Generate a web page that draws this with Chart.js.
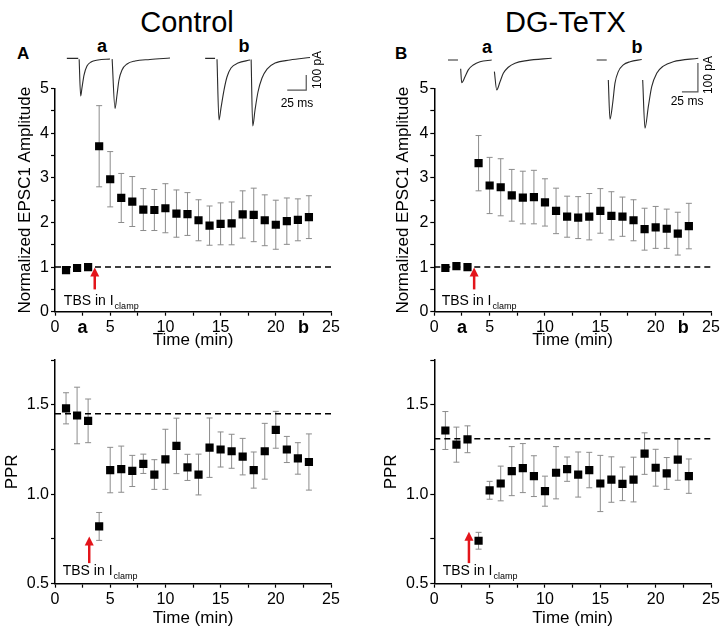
<!DOCTYPE html>
<html>
<head>
<meta charset="utf-8">
<script src="https://cdn.jsdelivr.net/npm/chart.js@4.4.1/dist/chart.umd.min.js"></script>
<style>
  body { margin: 0; background: #fff; }
  #fig { position: relative; width: 724px; height: 637px; overflow: hidden;
         font-family: "Liberation Sans", Arial, Helvetica, sans-serif; color: #000; }
  #fig canvas { position: absolute; }
  .txt { position: absolute; white-space: nowrap; line-height: 1; }
  .head { font-family: "Liberation Sans Narrow", "Liberation Sans", Arial, sans-serif; font-size: 29px; }
  .panel { font-weight: bold; font-size: 17px; }
  .mark { font-weight: bold; font-size: 18px; width: 20px; text-align: center; }
</style>
</head>
<body>
<div id="fig">
  <div class="txt head" style="left:132px;top:8px;width:110px;text-align:center">Control</div>
  <div class="txt head" style="left:505px;top:8px;width:120px;text-align:center">DG-TeTX</div>
  <div class="txt panel" style="left:17px;top:45px">A</div>
  <div class="txt panel" style="left:395px;top:45px">B</div>
  <div class="txt mark" style="left:92px;top:37px">a</div>
  <div class="txt mark" style="left:234px;top:37px">b</div>
  <div class="txt mark" style="left:477px;top:38px">a</div>
  <div class="txt mark" style="left:627px;top:38px">b</div>

  <canvas id="insetCtrl" width="285" height="95" style="left:60px;top:40px"></canvas>
  <canvas id="insetTetx" width="284" height="95" style="left:440px;top:40px"></canvas>
  <canvas id="ampCtrl" width="362" height="300" style="left:0;top:60px"></canvas>
  <canvas id="ampTetx" width="362" height="300" style="left:362px;top:60px"></canvas>
  <canvas id="pprCtrl" width="362" height="292" style="left:0;top:345px"></canvas>
  <canvas id="pprTetx" width="362" height="292" style="left:362px;top:345px"></canvas>
</div>
<script>
// time points (min)
const times = [1, 2, 3, 4, 5, 6, 7, 8, 9, 10, 11, 12, 13, 14, 15, 16, 17, 18, 19, 20, 21, 22, 23];

// normalized EPSC1 amplitude, mean and SEM
const ctrlAmp = [0.93, 0.98, 1.00, 3.71, 2.97, 2.55, 2.47, 2.29, 2.28, 2.32, 2.20, 2.19, 2.05, 1.93, 1.97, 1.98, 2.18, 2.17, 2.05, 1.95, 2.03, 2.06, 2.12];
const ctrlAmpErr = [0.04, 0.04, 0.04, 0.91, 0.62, 0.55, 0.56, 0.47, 0.46, 0.55, 0.53, 0.48, 0.46, 0.44, 0.47, 0.48, 0.53, 0.60, 0.57, 0.55, 0.52, 0.47, 0.48];
const tetxAmp = [0.98, 1.02, 1.00, 3.33, 2.83, 2.79, 2.61, 2.56, 2.57, 2.45, 2.26, 2.13, 2.11, 2.13, 2.26, 2.15, 2.13, 2.05, 1.85, 1.89, 1.86, 1.75, 1.92];
const tetxAmpErr = [0.04, 0.04, 0.04, 0.62, 0.63, 0.64, 0.58, 0.59, 0.60, 0.53, 0.51, 0.46, 0.47, 0.52, 0.50, 0.54, 0.44, 0.46, 0.47, 0.47, 0.44, 0.48, 0.51];

// paired pulse ratio, mean and SEM
const ctrlPpr = [1.48, 1.44, 1.41, 0.82, 1.135, 1.14, 1.13, 1.17, 1.11, 1.195, 1.27, 1.15, 1.11, 1.26, 1.25, 1.24, 1.21, 1.135, 1.24, 1.36, 1.25, 1.20, 1.18];
const ctrlPprErr = [0.087, 0.158, 0.122, 0.078, 0.127, 0.129, 0.087, 0.054, 0.083, 0.168, 0.155, 0.073, 0.114, 0.166, 0.098, 0.095, 0.102, 0.101, 0.156, 0.103, 0.073, 0.088, 0.157];
const tetxPpr = [1.356, 1.277, 1.307, 0.74, 1.022, 1.06, 1.129, 1.146, 1.101, 1.017, 1.12, 1.14, 1.11, 1.135, 1.06, 1.082, 1.058, 1.082, 1.227, 1.148, 1.116, 1.193, 1.101];
const tetxPprErr = [0.106, 0.098, 0.075, 0.047, 0.05, 0.097, 0.137, 0.137, 0.114, 0.084, 0.146, 0.068, 0.126, 0.099, 0.157, 0.127, 0.094, 0.125, 0.116, 0.103, 0.089, 0.115, 0.096];

// dashed reference levels
const ampBaseline = 1;
const ctrlPprBaseline = 1.45;
const tetxPprBaseline = 1.31;

// x tick labels for the sample times of traces a and b
const markTimes = [2.5, 22.5];
const markLabels = ["a", "b"];

// example EPSC traces, [ms, pA]; null pA = gap
const ctrlTraceA = [[9, 0], [24, 0], [24.6, null],
  [25.2, -5], [27.2, -251], [28.9, -197], [31.6, -111], [35.5, -51], [40.8, -24], [50, -11], [65.8, -4], [67, null],
  [68.6, -5], [72.4, -333], [75, -244], [77.6, -144], [81.6, -77], [88.2, -37], [98.7, -17], [118.4, -7], [144.8, 3]];
const ctrlTraceB = [[191, 0], [204, 0], [205, null],
  [206.6, -5], [209.2, -411], [211.8, -331], [215.8, -211], [219.7, -124], [225, -64], [234.2, -31], [250, -11], [250.8, null],
  [251.5, -8], [253.6, -451], [256.6, -344], [260.5, -224], [265.8, -131], [272.4, -71], [283, -31], [302.6, -11], [329, 6]];
const ctrlScaleBar = [[299, -211], [324, -211], [324, -111]];

const tetxTraceA = [[12.5, 0], [28.1, 0], [30, null],
  [32.3, -30], [33.9, -78], [39.1, -58], [44.2, -34], [52, -17], [62.5, -6], [80.8, 0], [82.5, null],
  [85, -40], [88.6, -103], [93.8, -75], [98.9, -46], [106.7, -25], [117.2, -11], [135.5, -2], [174.5, 6]];
const tetxTraceB = [[244.8, 0], [260.5, 0], [261.7, null],
  [263, -69], [265.6, -204], [269.8, -149], [273.4, -80], [278.6, -40], [286.4, -17], [296.9, -6], [315.2, 2], [316, null],
  [316.7, -69], [320.3, -235], [325.5, -161], [330.8, -92], [338.6, -46], [348.9, -21], [364.5, -6], [403.6, 6]];
const tetxScaleBar = [[378, -110], [403, -110], [403, -10]];

Chart.defaults.font.family = "'Liberation Sans', Arial, Helvetica, sans-serif";
Chart.defaults.color = "#000";

const toXY = (arr) => arr.map((p) => ({ x: p[0], y: p[1] }));

function errorBars(errors) {
  return {
    id: "errorBars",
    beforeDatasetsDraw(chart) {
      const { ctx, scales: { x, y } } = chart;
      const pts = chart.data.datasets[1].data;
      ctx.save();
      ctx.strokeStyle = "#8c8c8c";
      ctx.lineWidth = 1;
      pts.forEach((d, i) => {
        const px = x.getPixelForValue(d.x);
        const top = y.getPixelForValue(d.y + errors[i]);
        const bot = y.getPixelForValue(d.y - errors[i]);
        ctx.beginPath();
        ctx.moveTo(px, top); ctx.lineTo(px, bot);
        ctx.moveTo(px - 3, top); ctx.lineTo(px + 3, top);
        ctx.moveTo(px - 3, bot); ctx.lineTo(px + 3, bot);
        ctx.stroke();
      });
      ctx.restore();
    },
  };
}

function tbsNote(arrow, note) {
  return {
    id: "tbsNote",
    afterDatasetsDraw(chart) {
      const { ctx, scales: { x, y } } = chart;
      const ax = x.getPixelForValue(arrow.x);
      const y0 = y.getPixelForValue(arrow.from);
      const y1 = y.getPixelForValue(arrow.to);
      ctx.save();
      ctx.strokeStyle = ctx.fillStyle = "#e3151b";
      ctx.lineWidth = 2.5;
      ctx.beginPath();
      ctx.moveTo(ax, y0); ctx.lineTo(ax, y1 + 7);
      ctx.stroke();
      ctx.beginPath();
      ctx.moveTo(ax, y1); ctx.lineTo(ax - 4.5, y1 + 9); ctx.lineTo(ax + 4.5, y1 + 9);
      ctx.closePath();
      ctx.fill();
      const tx = x.getPixelForValue(note.x);
      const ty = y.getPixelForValue(note.y);
      ctx.fillStyle = "#000";
      ctx.textBaseline = "alphabetic";
      ctx.font = "14px 'Liberation Sans', Arial, sans-serif";
      ctx.fillText("TBS in I", tx, ty);
      const w = ctx.measureText("TBS in I").width;
      ctx.font = "9px 'Liberation Sans', Arial, sans-serif";
      ctx.fillText("clamp", tx + w + 1, ty + 4);
      ctx.restore();
    },
  };
}

function mainChart(id, cfg) {
  const isMark = (v) => cfg.marks && markTimes.some((m) => Math.abs(m - v) < 1e-6);
  return new Chart(document.getElementById(id), {
    type: "scatter",
    data: {
      datasets: [
        {
          data: [{ x: 0, y: cfg.baseline }, { x: 25, y: cfg.baseline }],
          showLine: true,
          borderColor: "#000",
          borderWidth: 1.5,
          borderDash: [6, 4],
          pointRadius: 0,
        },
        {
          data: times.map((t, i) => ({ x: t, y: cfg.values[i] })),
          pointStyle: "rect",
          pointRadius: 5.8,
          backgroundColor: "#000",
          borderWidth: 0,
        },
      ],
    },
    options: {
      responsive: false,
      animation: false,
      events: [],
      layout: { padding: cfg.padding },
      plugins: { legend: { display: false }, tooltip: { enabled: false } },
      scales: {
        x: {
          type: "linear",
          min: 0,
          max: 25,
          border: { color: "#000", width: 1.5 },
          grid: { drawOnChartArea: false, tickLength: 4, tickColor: "#000", tickWidth: 1.2 },
          ticks: {
            stepSize: 2.5,
            autoSkip: false,
            maxRotation: 0,
            padding: 2,
            color: "#000",
            font: (c) => (c.tick && isMark(c.tick.value) ? { size: 18, weight: "bold" } : { size: 16 }),
            callback: (v) => {
              if (v % 5 === 0) return String(v);
              if (cfg.marks) {
                const k = markTimes.findIndex((m) => Math.abs(m - v) < 1e-6);
                if (k >= 0) return markLabels[k];
              }
              return "";
            },
          },
          title: { display: true, text: "Time (min)", font: { size: 17 }, color: "#000", padding: { top: 0, bottom: cfg.xTitlePad } },
          afterFit: (s) => { s.height = cfg.xHeight; },
        },
        y: {
          min: cfg.yMin,
          max: cfg.yMax,
          border: { color: "#000", width: 1.5 },
          grid: { drawOnChartArea: false, tickLength: 4, tickColor: "#000", tickWidth: 1.2 },
          ticks: {
            stepSize: cfg.yStep,
            autoSkip: false,
            padding: 2,
            color: "#000",
            font: { size: 16 },
            callback: cfg.yLabel,
          },
          title: { display: true, text: cfg.yTitle, font: { size: 17 }, color: "#000", padding: { top: cfg.yTitlePad, bottom: 0 } },
          afterFit: (s) => { s.width = cfg.yWidth; },
        },
      },
    },
    plugins: [errorBars(cfg.errors), tbsNote(cfg.arrow, cfg.note)],
  });
}

const ampLabel = (v) => (Math.abs(v - Math.round(v)) < 1e-6 ? String(Math.round(v)) : "");
const pprLabel = (v) => (Math.abs(v * 2 - Math.round(v * 2)) < 1e-6 ? v.toFixed(1) : "");

mainChart("ampCtrl", {
  values: ctrlAmp, errors: ctrlAmpErr, baseline: ampBaseline, marks: true,
  yMin: 0, yMax: 5, yStep: 0.5, yLabel: ampLabel, yTitle: "Normalized EPSC1 Amplitude",
  padding: { left: 0, right: 31, top: 28.7, bottom: 0 }, yWidth: 55, xHeight: 48.3,
  yTitlePad: 14.8, xTitlePad: 9,
  arrow: { x: 3.6, from: 0.5, to: 0.99 }, note: { x: 0.8, y: 0.15 },
});
mainChart("ampTetx", {
  values: tetxAmp, errors: tetxAmpErr, baseline: ampBaseline, marks: true,
  yMin: 0, yMax: 5, yStep: 0.5, yLabel: ampLabel, yTitle: "Normalized EPSC1 Amplitude",
  padding: { left: 0, right: 13, top: 28.7, bottom: 0 }, yWidth: 72.3, xHeight: 48.3,
  yTitlePad: 30.8, xTitlePad: 9,
  arrow: { x: 3.6, from: 0.5, to: 0.99 }, note: { x: 0.67, y: 0.15 },
});
mainChart("pprCtrl", {
  values: ctrlPpr, errors: ctrlPprErr, baseline: ctrlPprBaseline, marks: false,
  yMin: 0.5, yMax: 1.75, yStep: 0.25, yLabel: pprLabel, yTitle: "PPR",
  padding: { left: 0, right: 31, top: 15, bottom: 0 }, yWidth: 55, xHeight: 53.3,
  yTitlePad: 1.8, xTitlePad: 8.8,
  arrow: { x: 3.1, from: 0.615, to: 0.764 }, note: { x: 0.7, y: 0.549 },
});
mainChart("pprTetx", {
  values: tetxPpr, errors: tetxPprErr, baseline: tetxPprBaseline, marks: false,
  yMin: 0.5, yMax: 1.75, yStep: 0.25, yLabel: pprLabel, yTitle: "PPR",
  padding: { left: 0, right: 13, top: 15, bottom: 0 }, yWidth: 72.3, xHeight: 53.3,
  yTitlePad: 19.1, xTitlePad: 8.8,
  arrow: { x: 3.13, from: 0.615, to: 0.79 }, note: { x: 0.76, y: 0.549 },
});

function insetLabels(bar, msPos, paPos) {
  return {
    id: "insetLabels",
    afterDatasetsDraw(chart) {
      const { ctx, scales: { x, y } } = chart;
      ctx.save();
      ctx.fillStyle = "#000";
      ctx.font = "12px 'Liberation Sans', Arial, sans-serif";
      ctx.textAlign = "center";
      ctx.textBaseline = "middle";
      ctx.fillText(bar.ms + " ms", x.getPixelForValue(msPos[0]), y.getPixelForValue(msPos[1]));
      ctx.translate(x.getPixelForValue(paPos[0]), y.getPixelForValue(paPos[1]));
      ctx.rotate(-Math.PI / 2);
      ctx.fillText(bar.pA + " pA", 0, 0);
      ctx.restore();
    },
  };
}

function insetChart(id, traces, scaleBar, xMax, yRange, msPos, paPos) {
  const traceSet = (arr) => ({
    data: toXY(arr),
    borderColor: "#2a2a2a",
    borderWidth: 1.1,
    pointRadius: 0,
    cubicInterpolationMode: "monotone",
    spanGaps: false,
  });
  return new Chart(document.getElementById(id), {
    type: "line",
    data: {
      datasets: [
        ...traces.map(traceSet),
        { data: toXY(scaleBar), borderColor: "#555", borderWidth: 1.2, pointRadius: 0, tension: 0 },
      ],
    },
    options: {
      responsive: false,
      animation: false,
      events: [],
      layout: { padding: 0 },
      plugins: { legend: { display: false }, tooltip: { enabled: false } },
      scales: {
        x: { type: "linear", display: false, min: 0, max: xMax },
        y: { display: false, min: yRange[0], max: yRange[1] },
      },
    },
    plugins: [insetLabels({ ms: 25, pA: 100 }, msPos, paPos)],
  });
}

insetChart("insetCtrl", [ctrlTraceA, ctrlTraceB], ctrlScaleBar, 375, [-510.7, 122.7], [311.8, -304], [339.5, -77]);
insetChart("insetTetx", [tetxTraceA, tetxTraceB], tetxScaleBar, 443.75, [-258.6, 69], [386, -145], [420, -52]);
</script>
</body>
</html>
